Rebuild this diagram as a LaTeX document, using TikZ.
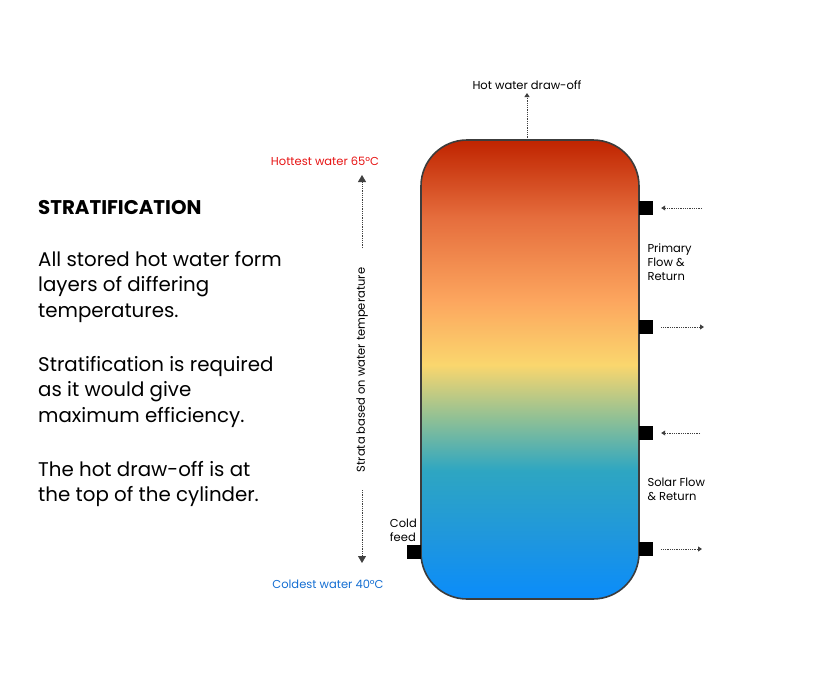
\documentclass[tikz,border=0pt]{standalone}
\usepackage{fontspec}
\setmainfont{Poppins}
\usetikzlibrary{positioning,arrows.meta}
\definecolor{hotred}{RGB}{230,20,20}
\definecolor{coldblue}{RGB}{20,110,210}
\definecolor{tankline}{RGB}{60,60,60}
\pgfdeclareverticalshading{strata}{100bp}{%
  rgb(0bp)=(0.04,0.55,0.98);
  rgb(25bp)=(0.04,0.55,0.98);
  rgb(31.5bp)=(0.12,0.59,0.87);
  rgb(39bp)=(0.18,0.65,0.76);
  rgb(44.5bp)=(0.55,0.75,0.59);
  rgb(50.5bp)=(0.98,0.84,0.43);
  rgb(57.5bp)=(0.99,0.65,0.37);
  rgb(66.5bp)=(0.90,0.43,0.24);
  rgb(75bp)=(0.75,0.14,0.0);
  rgb(100bp)=(0.75,0.14,0.0)}
\tikzset{
  port/.style={fill=black, minimum size=14pt, inner sep=0pt},
  flow/.style={densely dotted, thick, draw=black!75, -{Triangle[length=4pt,width=5pt]}},
  strata/.style={densely dotted, thick, draw=black!75, -{Triangle[length=7pt,width=8pt]}},
  lbl/.style={font=\fontsize{11.5}{14}\selectfont, align=left},
  body/.style={font=\fontsize{19.8}{25.5}\selectfont, align=left, anchor=north west, inner sep=0pt}
}
\begin{document}
\begin{tikzpicture}[x=1pt,y=-1pt]
	\useasboundingbox (0,0) rectangle (813,696);
	
	% cylinder
	\draw[rounded corners=46pt, shading=strata, draw=tankline, line width=1.6pt]
		(421,140) rectangle (639,599);
	\coordinate (top) at (527,140);
	
	% ports
	\foreach \n/\y in {p1/208,p2/327,p3/433,p4/549}
	{
		\node[port] (\n) at (646,\y) {};
	}
	\node[port] (cold) at (414,552) {};
	
	% connectors
	\coordinate (a1) at (702,208);
	\coordinate (a2) at (704,327);
	\coordinate (a3) at (700,433);
	\coordinate (a4) at (702,549);
	\draw[flow] (a1) -- ([xshift=8pt]p1.east);
	\draw[flow] ([xshift=8pt]p2.east) -- (a2);
	\draw[flow] (a3) -- ([xshift=8pt]p3.east);
	\draw[flow] ([xshift=8pt]p4.east) -- (a4);
	\node[lbl, anchor=south] (hot) at (527,93) {Hot water draw-off};
	\draw[flow] (top) -- (hot.south);
	
	\node[lbl, anchor=north west] (primary) at (644,240) {Primary\\Flow \&\\Return};
	\node[lbl, anchor=north west] (solar) at (644,474) {Solar Flow\\\& Return};
	\node[lbl, anchor=south east, inner sep=1pt] (feed) at (418,543) {Cold\\feed};
	
	% strata scale
	\node[lbl, text=hotred] (hottest) at (325,161) {Hottest water 65°C};
	\node[lbl, text=coldblue] (coldest) at (328,584) {Coldest water 40°C};
	\node[lbl, rotate=90] (scale) at (362,370) {Strata based on water temperature};
	\coordinate (s1) at (362,248);
	\coordinate (s2) at (362,490);
	\draw[strata] (s1) -- (362,175);
	\draw[strata] (s2) -- (362,563);
	
	% text
	\node[body, font=\fontsize{19.8}{25.5}\selectfont\bfseries] (title) at (38,200) {STRATIFICATION};
	\node[body] (t1) at (38,251) {All stored hot water form\\layers of differing\\temperatures.};
	\node[body] (t2) at (38,356) {Stratification is required\\as it would give\\maximum efficiency.};
	\node[body] (t3) at (38,461) {The hot draw-off is at\\the top of the cylinder.};
\end{tikzpicture}
\end{document}
